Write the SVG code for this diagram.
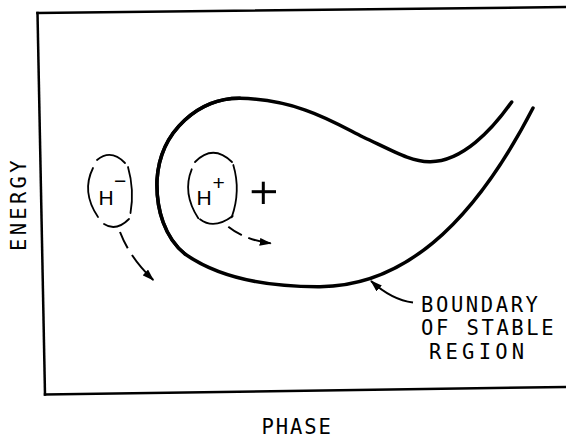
<svg xmlns="http://www.w3.org/2000/svg" width="566" height="439" viewBox="0 0 566 439">
<style>
.frame{fill:none;stroke:#000;stroke-width:2.5;stroke-linecap:square}
.bound{fill:none;stroke:#000;stroke-width:3.5;stroke-linecap:round;stroke-linejoin:round}
.ell{fill:none;stroke:#000;stroke-width:1.8;stroke-linecap:round}
.arr{fill:none;stroke:#000;stroke-width:2;stroke-linecap:butt}
.lbl{font-family:"DejaVu Sans Mono","Liberation Mono",monospace;font-size:20.5px;fill:#000}
.h{font-family:"Liberation Sans",Arial,sans-serif;font-size:21px;fill:#000}
</style>
<defs>
<marker id="head" viewBox="0 0 12 8" refX="11" refY="4" markerWidth="12" markerHeight="8" markerUnits="userSpaceOnUse" orient="auto">
<path d="M0,0 L12,4 L0,8 Z" fill="#000"/>
</marker>
</defs>
<g id="frame">
<line class="frame" x1="37.5" y1="13" x2="566" y2="7"/>
<line class="frame" x1="37.5" y1="13" x2="45" y2="394.5"/>
<line class="frame" x1="45" y1="394.5" x2="566" y2="387"/>
</g>
<g id="axis-labels">
<text class="lbl" letter-spacing="3.3" font-size="18.3" transform="translate(26,251) rotate(-90)">ENERGY</text>
<text class="lbl" letter-spacing="1.9" x="261.5" y="434">PHASE</text>
</g>
<g id="boundary">
<path class="bound" d="M511.7,102 C492,130 462,162 430,161.7 C412,162 395,152 363,137 C335,123 300,100 240,98.3 C200,98 160,130 157,180 C156,210 165,238 185,254 C215,275 260,287 320,286.7 C400,286 470,230 533,108"/>
<path class="bound" stroke-width="4.5" d="M240,98.3 C200,98 160,130 157,180 C156,210 165,238 185,254"/>
</g>
<g id="h-minus">
<path class="ell" d="M97,160 Q111,148.5 125,163"/>
<path class="ell" d="M93,168 Q81,192 98,217"/>
<path class="ell" d="M128,167 Q134.5,190 130.5,213"/>
<path class="ell" d="M104,224 Q116,232 129,219"/>
<text class="h" x="98.5" y="205">H</text>
<text class="h" font-size="20" x="114" y="188.4">−</text>
</g>
<g id="h-plus">
<path class="ell" d="M195,162 Q213,143.5 232,162"/>
<path class="ell" d="M191.7,169.3 Q182,193 198.3,218.3"/>
<path class="ell" d="M233.3,165 Q241,191 231.7,217.3"/>
<path class="ell" d="M200,219.3 Q214,230 232.7,216"/>
<text class="h" x="196.5" y="204.5">H</text>
<text class="h" font-size="24" x="212.5" y="190.4">+</text>
</g>
<g id="sync-point">
<line x1="251.7" y1="191.7" x2="276" y2="191.7" stroke="#000" stroke-width="3"/>
<line x1="263.3" y1="181.7" x2="263.3" y2="204" stroke="#000" stroke-width="3"/>
</g>
<g id="boundary-label">
<text class="lbl" letter-spacing="2.6" x="421" y="311.5">BOUNDARY</text>
<text class="lbl" letter-spacing="2.6" x="421" y="335">OF<tspan x="466.5">STABLE</tspan></text>
<text class="lbl" letter-spacing="4.2" x="429" y="359.3">REGION</text>
</g>
<g id="connectors">
<path class="arr" stroke-dasharray="18 8 100" marker-end="url(#head)" d="M120,232 Q130,258 153.3,280"/>
<path class="arr" stroke-dasharray="16 7 100" marker-end="url(#head)" d="M228.3,226.7 Q245,240 270.7,243.3"/>
<path class="arr" marker-end="url(#head)" d="M413,302.5 Q392,300 371,281"/>
</g>
</svg>
